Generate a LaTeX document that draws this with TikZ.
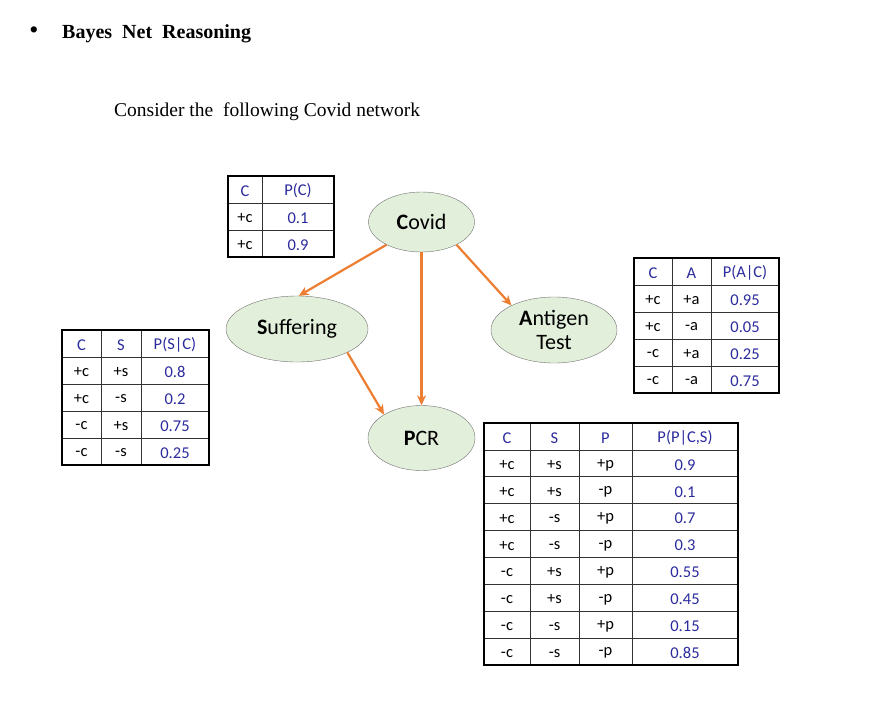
\documentclass[tikz,border=0pt]{standalone}
\usepackage{fontspec}
\setmainfont{Liberation Serif}
\newfontfamily\calibri{Carlito}
\usetikzlibrary{shapes.geometric,arrows.meta}
\definecolor{nodegreen}{HTML}{E2EFDA}
\definecolor{edgeorange}{HTML}{ED7D31}
\definecolor{valblue}{HTML}{2B2B9E}
\tikzset{
  var/.style={ellipse, draw=black!55, fill=nodegreen, inner sep=0pt, font=\calibri\fontsize{22}{24}\selectfont, align=center},
  edge/.style={draw=edgeorange, line width=2.2pt, -{Stealth[length=10pt,width=9pt]}},
  tabframe/.style={draw=black, line width=1.6pt},
  tabline/.style={draw=black!80, line width=0.8pt},
  cell/.style={font=\calibri\fontsize{16.5}{18}\selectfont, inner sep=0pt, yshift=-1.5pt},
  val/.style={cell, text=valblue}
}
\begin{document}
\begin{tikzpicture}[x=1pt, y=-1pt]
\useasboundingbox[fill=white] (0,0) rectangle (877,718);
% heading
\node[anchor=base] (bullet) at (34,38) {\fontsize{26}{28}\selectfont\textbullet};
\node[anchor=base west, inner sep=0pt] (title) at (62,38) {\fontsize{20}{22}\selectfont\bfseries Bayes\ \ Net\ \ Reasoning};
\node[anchor=base west, inner sep=0pt] (intro) at (114,116) {\fontsize{19.5}{22}\selectfont Consider the\ \ following Covid network};
% network
\node[var, minimum width=106pt, minimum height=60pt] (covid) at (421.5,222) {\textbf{C}ovid};
\node[var, minimum width=142pt, minimum height=66pt] (suff) at (297,329) {\textbf{S}uffering};
\node[var, minimum width=126pt, minimum height=66pt] (ant) at (554,330) {\textbf{A}ntigen\\Test};
\node[var, minimum width=107pt, minimum height=65pt] (pcr) at (421.5,438) {\textbf{P}CR};
\draw[edge] (covid.213) -- (suff.87);
\draw[edge] (covid.south) -- (pcr.north);
\draw[edge] (covid.327) -- (ant.150);
\draw[edge] (suff.335) -- (pcr.148);
% P(C)
\draw[tabline] (262,176) -- (262,257);
\foreach \y in {203,230} \draw[tabline] (228,\y) -- (334,\y);
\draw[tabframe] (228,176) rectangle (334,257);
\node[val] (c-0-1) at (245,189.5) {C};
\node[val] (c-0-2) at (298,189.5) {P(C)};
\foreach \a/\p [count=\i] in {+c/0.1, +c/0.9}{
  \node[cell] (c-\i-1) at (245,{189.5+27*\i}) {\a};
  \node[val] (c-\i-2) at (298,{189.5+27*\i}) {\p};
}
% P(S|C)
\foreach \x in {101,141} \draw[tabline] (\x,330) -- (\x,465);
\foreach \y in {357,384,411,438} \draw[tabline] (62,\y) -- (209,\y);
\draw[tabframe] (62,330) rectangle (209,465);
\node[val] (s-0-1) at (81.5,343.5) {C};
\node[val] (s-0-2) at (121,343.5) {S};
\node[val] (s-0-3) at (175,343.5) {P(S|C)};
\foreach \a/\b/\p [count=\i] in {+c/+s/0.8, +c/-s/0.2, -c/+s/0.75, -c/-s/0.25}{
  \node[cell] (s-\i-1) at (81.5,{343.5+27*\i}) {\a};
  \node[cell] (s-\i-2) at (121,{343.5+27*\i}) {\b};
  \node[val] (s-\i-3) at (175,{343.5+27*\i}) {\p};
}
% P(A|C)
\foreach \x in {672,711} \draw[tabline] (\x,258) -- (\x,393);
\foreach \y in {285,312,339,366} \draw[tabline] (634,\y) -- (779,\y);
\draw[tabframe] (634,258) rectangle (779,393);
\node[val] (a-0-1) at (653,271.5) {C};
\node[val] (a-0-2) at (691.5,271.5) {A};
\node[val] (a-0-3) at (745,271.5) {P(A|C)};
\foreach \a/\b/\p [count=\i] in {+c/+a/0.95, +c/-a/0.05, -c/+a/0.25, -c/-a/0.75}{
  \node[cell] (a-\i-1) at (653,{271.5+27*\i}) {\a};
  \node[cell] (a-\i-2) at (691.5,{271.5+27*\i}) {\b};
  \node[val] (a-\i-3) at (745,{271.5+27*\i}) {\p};
}
% P(P|C,S)
\foreach \x in {530,579,632} \draw[tabline] (\x,423) -- (\x,665);
\foreach \i in {1,...,8} \draw[tabline] (484,{423+26.9*\i}) -- (738,{423+26.9*\i});
\draw[tabframe] (484,423) rectangle (738,665);
\node[val] (p-0-1) at (507,436.5) {C};
\node[val] (p-0-2) at (554.5,436.5) {S};
\node[val] (p-0-3) at (605.5,436.5) {P};
\node[val] (p-0-4) at (685,436.5) {P(P|C,S)};
\foreach \a/\b/\c/\p [count=\i] in {+c/+s/+p/0.9, +c/+s/-p/0.1, +c/-s/+p/0.7, +c/-s/-p/0.3,
    -c/+s/+p/0.55, -c/+s/-p/0.45, -c/-s/+p/0.15, -c/-s/-p/0.85}{
  \node[cell] (p-\i-1) at (507,{436.5+26.9*\i}) {\a};
  \node[cell] (p-\i-2) at (554.5,{436.5+26.9*\i}) {\b};
  \node[cell] (p-\i-3) at (605.5,{436.5+26.9*\i}) {\c};
  \node[val] (p-\i-4) at (685,{436.5+26.9*\i}) {\p};
}
\end{tikzpicture}
\end{document}
